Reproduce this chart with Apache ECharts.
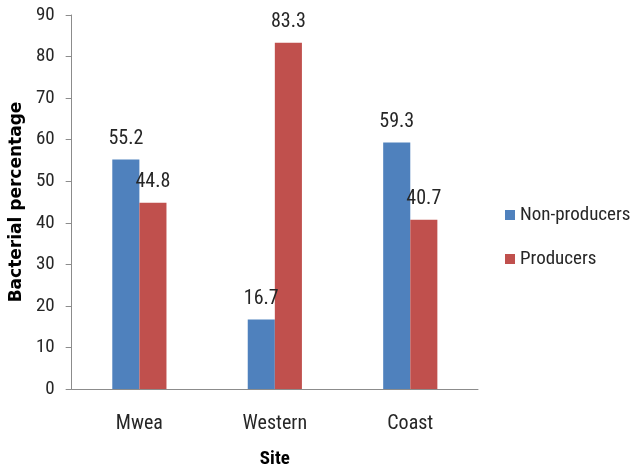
<!DOCTYPE html>
<html>
<head>
<meta charset="utf-8">
<script src="https://cdn.jsdelivr.net/npm/echarts@6/dist/echarts.min.js"></script>
<style>
  html, body { margin: 0; padding: 0; background: #fff; }
  #chart { width: 633px; height: 474px; }
</style>
</head>
<body>
<div id="chart"></div>
<script>
// Sites and the share of bacteria in each group
const sites = ['Mwea', 'Western', 'Coast'];
const nonProducers = [55.2, 16.7, 59.3];
const producers = [44.8, 83.3, 40.7];
const yTicks = { min: 0, max: 90, step: 10 };

const FONT = '"Roboto Condensed", Carlito, sans-serif';
const TEXT = '#262626';
const AXIS = '#8c8c8c';

const chart = echarts.init(document.getElementById('chart'), null, { renderer: 'canvas' });

function barSeries(name, data, color) {
  return {
    name: name,
    type: 'bar',
    data: data,
    barGap: '0%',
    barCategoryGap: '60%',
    itemStyle: { color: color },
    label: {
      show: true,
      position: 'top',
      distance: 11,
      color: TEXT,
      fontFamily: FONT,
      fontSize: 20,
      formatter: p => p.value.toFixed(1)
    }
  };
}

chart.setOption({
  animation: false,
  backgroundColor: '#fff',
  grid: { left: 71, right: 155, top: 15, bottom: 80, containLabel: false },
  legend: {
    orient: 'vertical',
    left: 505,
    top: 205,
    padding: 0,
    itemWidth: 10,
    itemHeight: 10,
    itemGap: 24,
    icon: 'rect',
    textStyle: { color: TEXT, fontFamily: FONT, fontSize: 19, lineHeight: 20 },
    data: ['Non-producers', 'Producers']
  },
  xAxis: {
    type: 'category',
    data: sites,
    name: 'Site',
    nameLocation: 'middle',
    nameGap: 61,
    nameTextStyle: { color: '#000', fontFamily: FONT, fontSize: 19, fontWeight: 'bold' },
    axisLine: { lineStyle: { color: AXIS, width: 1 } },
    axisTick: { show: false },
    axisLabel: { color: TEXT, fontFamily: FONT, fontSize: 20, margin: 25 }
  },
  yAxis: {
    type: 'value',
    min: yTicks.min,
    max: yTicks.max,
    interval: yTicks.step,
    name: 'Bacterial percentage',
    nameLocation: 'middle',
    nameGap: 41,
    nameTextStyle: { color: '#000', fontFamily: '"DejaVu Sans", sans-serif', fontSize: 17, fontWeight: 'bold' },
    axisLine: { show: true, lineStyle: { color: AXIS, width: 1 } },
    axisTick: { show: true, length: 6, lineStyle: { color: AXIS } },
    splitLine: { show: false },
    axisLabel: { color: TEXT, fontFamily: FONT, fontSize: 19, margin: 17 }
  },
  series: [
    barSeries('Non-producers', nonProducers, '#4F81BD'),
    barSeries('Producers', producers, '#C0504D')
  ]
});
</script>
</body>
</html>
